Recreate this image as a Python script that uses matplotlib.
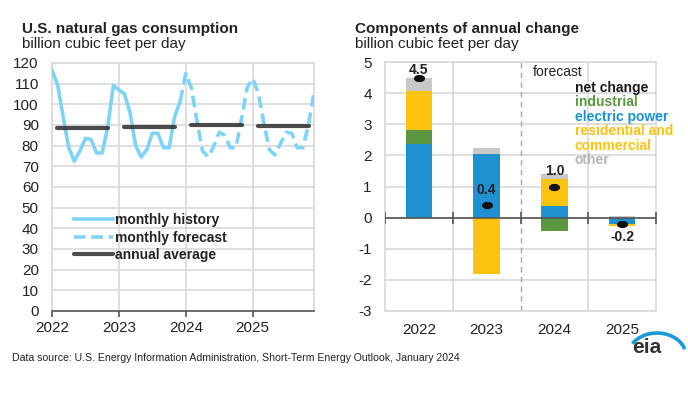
import numpy as np
import matplotlib
matplotlib.use('Agg')
import matplotlib.pyplot as plt
from matplotlib.path import Path
from matplotlib.patches import Arc
from matplotlib.transforms import Affine2D

plt.rcParams['font.family'] = ['Liberation Sans', 'DejaVu Sans']
plt.rcParams['axes.unicode_minus'] = False

# monthly consumption, Jan 2022 .. Dec 2025 (billion cubic feet per day)
history = [116.5, 109.5, 94, 79, 72.5, 77.5, 83.5, 83, 76.5, 76.5, 89, 109,
           107, 105, 96, 80, 74.5, 78, 86, 86, 79, 79, 94, 101.5]
forecast = [115, 108, 92, 77.5, 74.5, 79.5, 86.5, 85, 79, 79, 93, 108,
            112.5, 105.5, 91, 78, 75.5, 81, 86.5, 86, 79, 79, 90, 105.5]
annual_avg = [88.5, 89, 90, 89.7]
year_labels = ['2022', '2023', '2024', '2025']

# components of annual change
electric = [2.37, 2.05, 0.37, -0.21]
industrial = [0.43, 0.0, -0.42, 0.0]
rescom = [1.28, -1.81, 0.86, -0.07]
other = [0.40, 0.19, 0.16, 0.05]
net_change = [4.5, 0.4, 1.0, -0.2]

LBLUE = '#7fd3f7'
GRID = '#d9d9d9'
BLUE = '#1f91d0'
GREEN = '#5b9740'
YELLOW = '#fdc40f'
GRAY = '#c8c8c8'
TXT = '#222222'

fig = plt.figure(figsize=(6.88, 3.94), dpi=100)

# ---------------- left panel ----------------
ax1 = fig.add_axes([52/688, 1-311/394, 262/688, 248/394])
n_hist = len(history)
months_hist = np.arange(n_hist)
months_fc = np.arange(n_hist - 1, n_hist + len(forecast))
ax1.plot(months_hist, history, color=LBLUE, lw=2.6,
         label='monthly history', zorder=3)
ax1.plot(months_fc, [history[-1]] + forecast, color=LBLUE, lw=2.6,
         dashes=(3.2, 1.6), label='monthly forecast', zorder=3)
for i, v in enumerate(annual_avg):
    ax1.plot([12*i + 0.9, 12*i + 10.1], [v, v], color='#2d2d2d', lw=3,
             alpha=0.85, solid_capstyle='round', zorder=4,
             label='annual average' if i == 0 else None)

ax1.set_xlim(0, 47)
ax1.set_ylim(0, 120)
ax1.set_yticks(np.arange(0, 121, 10))
ax1.set_xticks([0, 12, 24, 36])
ax1.set_xticklabels(year_labels)
ax1.grid(True, color=GRID, lw=1.2)
ax1.set_axisbelow(True)
for s in ['top', 'right', 'left']:
    ax1.spines[s].set_color(GRID)
    ax1.spines[s].set_linewidth(1.2)
ax1.spines['bottom'].set_color('#555555')
ax1.spines['bottom'].set_linewidth(1.2)
ax1.tick_params(axis='y', length=0, pad=9.5, labelsize=11, labelcolor=TXT)
ax1.tick_params(axis='x', length=4, width=1.2, color='#555555', pad=3,
                labelsize=11, labelcolor=TXT)
leg = ax1.legend(loc='upper left', bbox_to_anchor=(0.037, 0.445), frameon=False,
                 handlelength=2.8, handletextpad=0.15, labelspacing=0.25,
                 prop={'weight': 'bold', 'size': 10})
for t in leg.get_texts():
    t.set_color(TXT)

fig.text(22/688, 1-33/394, 'U.S. natural gas consumption', fontsize=11,
         fontweight='bold', color=TXT, va='baseline')
fig.text(22/688, 1-48/394, 'billion cubic feet per day', fontsize=11,
         color=TXT, va='baseline')

# ---------------- right panel ----------------
ax2 = fig.add_axes([385/688, 1-311/394, 271/688, 249/394])
x = np.arange(len(year_labels))
w = 0.39
pos_base = np.zeros(len(x))
neg_base = np.zeros(len(x))
for vals, col in [(electric, BLUE), (industrial, GREEN), (rescom, YELLOW), (other, GRAY)]:
    vals = np.array(vals)
    base = np.where(vals >= 0, pos_base, neg_base)
    ax2.bar(x, vals, w, bottom=base, color=col, zorder=2, linewidth=0)
    pos_base = pos_base + np.where(vals >= 0, vals, 0)
    neg_base = neg_base + np.where(vals < 0, vals, 0)

ellipse = Path.unit_circle().transformed(Affine2D().scale(1, 0.6))
ax2.plot(x, net_change, ls='none', marker=ellipse, ms=7, color='#111111', zorder=5)
for xi, v in zip(x, net_change):
    ly = min(v + 0.5, 4.75) if v >= 0 else v - 0.42
    ax2.text(xi, ly, f'{v:.1f}', ha='center', va='center', fontsize=10,
             fontweight='bold', color=TXT, zorder=6)

bounds = np.arange(-0.5, len(x), 1.0)
ax2.plot(bounds, np.zeros(len(bounds)), color='#555555', lw=1.2, marker='|',
         ms=8, mew=1.2, zorder=4)
ax2.set_xlim(-0.5, 3.5)
ax2.set_ylim(-3, 5)
ax2.set_yticks(np.arange(-3, 6, 1))
ax2.set_xticks(x)
ax2.set_xticklabels(year_labels)
ax2.yaxis.grid(True, color=GRID, lw=1.2)
for b in bounds[1:-1]:
    if b == 1.5:
        ax2.axvline(b, color='#a8a8a8', lw=1, dashes=(4, 3), zorder=1)
    else:
        ax2.axvline(b, color=GRID, lw=1.2, zorder=1)
ax2.set_axisbelow(True)
for s in ax2.spines.values():
    s.set_color(GRID)
    s.set_linewidth(1.2)
ax2.tick_params(axis='y', length=0, pad=9.5, labelsize=11, labelcolor=TXT)
ax2.tick_params(axis='x', length=0, pad=9, labelsize=11, labelcolor=TXT)

ax2.text(0.546, 0.96, 'forecast', transform=ax2.transAxes, fontsize=10,
         color=TXT, va='center')
legend_items = [('net change', '#1a1a1a'), ('industrial', GREEN),
                ('electric power', BLUE), ('residential and', YELLOW),
                ('commercial', YELLOW), ('other', '#b5b5b5')]
for i, (lab, col) in enumerate(legend_items):
    ax2.text(0.701, 0.896 - i*0.058, lab, transform=ax2.transAxes,
             fontsize=10, fontweight='bold', color=col, va='center')

fig.text(355/688, 1-33/394, 'Components of annual change', fontsize=11,
         fontweight='bold', color=TXT, va='baseline')
fig.text(355/688, 1-48/394, 'billion cubic feet per day', fontsize=11,
         color=TXT, va='baseline')

# footer and logo
fig.text(12/688, 1-358/394,
         'Data source: U.S. Energy Information Administration, Short-Term Energy Outlook, January 2024',
         fontsize=7.6, color=TXT, va='center')
fig.text(647/688, 1-353/394, 'eia', fontsize=15, fontweight='bold',
         color='#333333', ha='center', va='baseline')
fig.add_artist(Arc((657/688, 38/394), 58/688, 46/394, theta1=23, theta2=139,
                   transform=fig.transFigure, color='#1a9ad6', lw=2.6))

fig.savefig('out.png', dpi=100)
